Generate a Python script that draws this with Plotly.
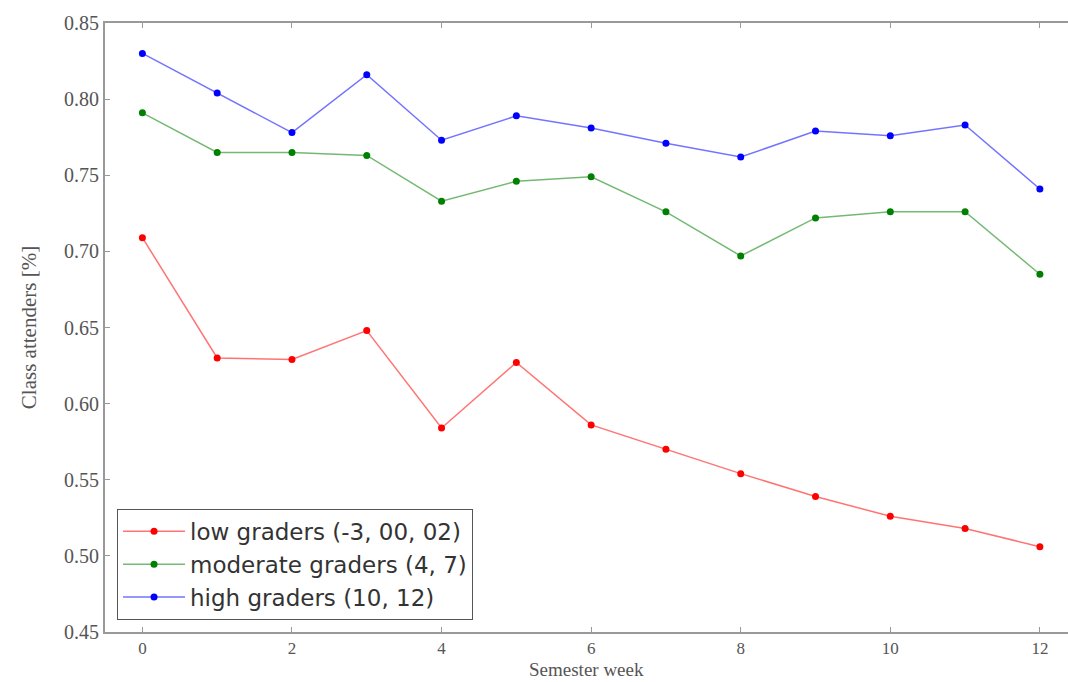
import plotly.graph_objects as go

weeks = list(range(13))

low_graders = [0.709, 0.630, 0.629, 0.648, 0.584, 0.627, 0.586, 0.570, 0.554,
               0.539, 0.526, 0.518, 0.506]
moderate_graders = [0.791, 0.765, 0.765, 0.763, 0.733, 0.746, 0.749, 0.726, 0.697,
                    0.722, 0.726, 0.726, 0.685]
high_graders = [0.830, 0.804, 0.778, 0.816, 0.773, 0.789, 0.781, 0.771, 0.762,
                0.779, 0.776, 0.783, 0.741]

series = [
    ("low graders (-3, 00, 02)", low_graders, "rgb(255,0,0)", "rgba(255,0,0,0.55)"),
    ("moderate graders (4, 7)", moderate_graders, "rgb(0,128,0)", "rgba(0,128,0,0.55)"),
    ("high graders (10, 12)", high_graders, "rgb(0,0,255)", "rgba(0,0,255,0.55)"),
]

y_ticks = [0.45, 0.50, 0.55, 0.60, 0.65, 0.70, 0.75, 0.80, 0.85]
x_ticks = [0, 2, 4, 6, 8, 10, 12]

fig = go.Figure()
for name, vals, mcol, lcol in series:
    fig.add_trace(go.Scatter(
        x=weeks, y=vals, name=name, mode="lines+markers",
        line=dict(color=lcol, width=1.5),
        marker=dict(color=mcol, size=7),
    ))

grey = "#555555"

fig.update_layout(
    width=1068, height=682,
    margin=dict(l=105, r=0, t=23, b=50),
    paper_bgcolor="white", plot_bgcolor="white",
    showlegend=True,
    legend=dict(
        x=0.0125, y=0.02, xanchor="left", yanchor="bottom",
        bgcolor="white", bordercolor=grey, borderwidth=1,
        font=dict(family="DejaVu Sans", size=23, color="#333333"),
        itemwidth=62, tracegroupgap=0,
    ),
    xaxis=dict(
        range=[-0.5, 12.376], tickvals=x_ticks, ticktext=[str(v) for v in x_ticks],
        showgrid=False, zeroline=False,
        showline=True, linecolor="#999999", linewidth=2, mirror="ticks",
        ticks="inside", ticklen=5, tickcolor="#999999",
        tickfont=dict(family="Liberation Serif", size=17, color=grey),
    ),
    yaxis=dict(
        range=[0.45, 0.85], tickvals=y_ticks, ticktext=[f"{v:.2f}" for v in y_ticks],
        showgrid=False, zeroline=False,
        showline=True, linecolor="#999999", linewidth=2, mirror=False,
        ticks="inside", ticklen=5, tickcolor="#999999",
        tickfont=dict(family="Liberation Serif", size=20, color=grey),
        title=dict(text="Class attenders [%]",
                   font=dict(family="Liberation Serif", size=21, color=grey), standoff=22),
    ),
    annotations=[dict(
        text="Semester week", xref="paper", yref="paper",
        x=0.5, y=-0.0821, xanchor="center", yanchor="bottom",
        showarrow=False, font=dict(family="Liberation Serif", size=19, color=grey),
    )],
)

fig.write_html("out.html")
